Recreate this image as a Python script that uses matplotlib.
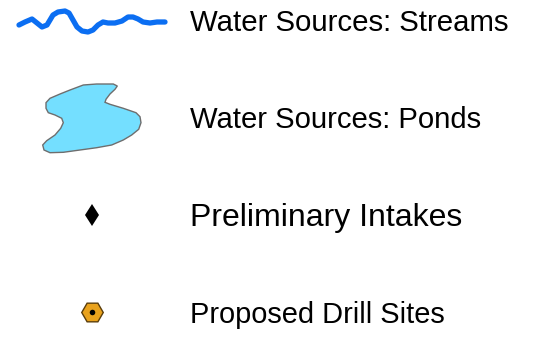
import matplotlib.pyplot as plt
from matplotlib.patches import Polygon

# legend labels
labels = ["Water Sources: Streams", "Water Sources: Ponds",
          "Preliminary Intakes", "Proposed Drill Sites"]
label_y = [31, 128, 226, 323]
label_size = [21.2, 21.1, 23.0, 20.9]

# stream squiggle (pixel coords)
stream_x = [19, 25, 32, 37, 42, 47, 50, 53, 58, 65, 69, 73, 77, 82, 88, 93, 98,
            103, 108, 115, 122, 128, 133, 138, 143, 150, 157, 165]
stream_y = [25, 22, 19, 23, 27, 25, 20, 15, 12, 11, 13, 20, 27, 31, 32, 30, 25,
            22, 23, 23, 21, 17, 17, 19, 22, 23, 22, 22]

# pond outline (pixel coords)
pond_x = [83.3, 96.7, 113.3, 117.3, 115, 110, 106, 105, 110, 123.3, 136, 140,
          141, 138.7, 131.7, 123.3, 111.7, 96.7, 80, 63.3, 50, 44, 42.7, 46.7,
          55, 60.7, 63.3, 61.7, 55, 48.3, 46, 46, 50, 60, 70]
pond_y = [85, 84, 84, 86, 89.3, 94, 99.3, 102.3, 104.3, 108.3, 112.7, 116.7,
          122.7, 129.3, 135, 140, 145, 147.7, 150, 152.3, 152.7, 150, 145,
          140.7, 135, 128.3, 122.7, 118.3, 115, 112.7, 108.3, 102.7, 98.3, 94, 90]

intake_xy = (92, 215)
drill_xy = (92, 312)

fig = plt.figure(figsize=(5.4, 3.38), dpi=100)
ax = fig.add_axes([0, 0, 1, 1])
ax.set_xlim(0, 540)
ax.set_ylim(338, 0)
ax.axis("off")

ax.plot(stream_x, stream_y, "-", lw=3.8, color="#0B6EF2",
        solid_capstyle="round", solid_joinstyle="round")

ax.add_patch(Polygon(list(zip(pond_x, pond_y)), closed=True,
                     facecolor="#74DFFF", edgecolor="#6E6E6E", lw=1.0))

ax.plot(*intake_xy, marker="d", ms=11.5, color="black", mew=0)

ax.plot(*drill_xy, marker="H", ms=15.5, mfc="#E9A21C", mec="#5A3D0A", mew=1.0)
ax.plot(*drill_xy, marker="o", ms=4, color="black", mew=0)

for txt, y, fs in zip(labels, label_y, label_size):
    ax.text(190, y, txt, fontsize=fs, family="Liberation Sans",
            va="baseline", ha="left", color="black")

fig.savefig("out.png", dpi=100)
